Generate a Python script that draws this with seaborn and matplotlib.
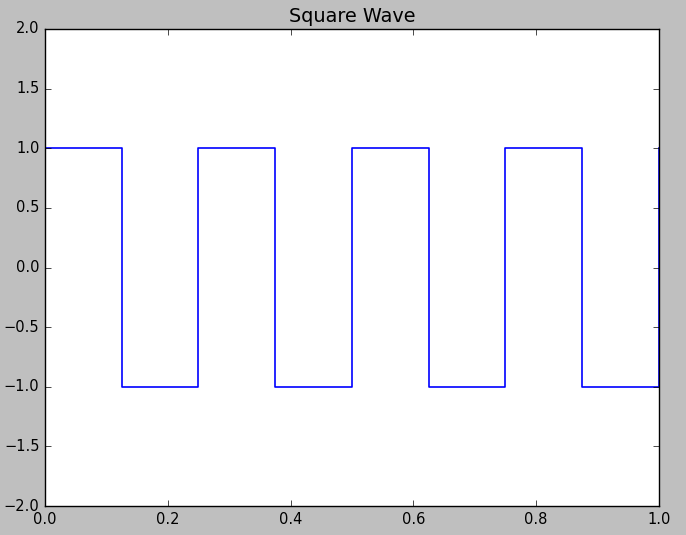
import matplotlib
matplotlib.use("Agg")
import matplotlib.pyplot as plt
import seaborn as sns

# step vertices of the square wave (steps-post)
t_edges = [0.0, 0.125, 0.25, 0.375, 0.5, 0.625, 0.75, 0.875, 1.0]
levels = [1, -1, 1, -1, 1, -1, 1, -1, 1]

x_ticks = [0.0, 0.2, 0.4, 0.6, 0.8, 1.0]
y_ticks = [-2.0, -1.5, -1.0, -0.5, 0.0, 0.5, 1.0, 1.5, 2.0]

plt.style.use('classic')
plt.rcParams['font.size'] = 10.5

fig = plt.figure(figsize=(6.86, 5.35), dpi=100, facecolor='#bfbfbf')
ax = fig.add_axes([0.0656, 0.0542, 0.8950, 0.8916])

sns.lineplot(x=t_edges, y=levels, ax=ax, color='blue', linewidth=1.2,
             drawstyle='steps-post', sort=False, estimator=None)

ax.set_xlim(0, 1)
ax.set_ylim(-2, 2)
ax.set_xticks(x_ticks)
ax.set_yticks(y_ticks)
ax.set_title('Square Wave', fontsize=13.9)

fig.savefig('out.png', dpi=100, facecolor=fig.get_facecolor())
